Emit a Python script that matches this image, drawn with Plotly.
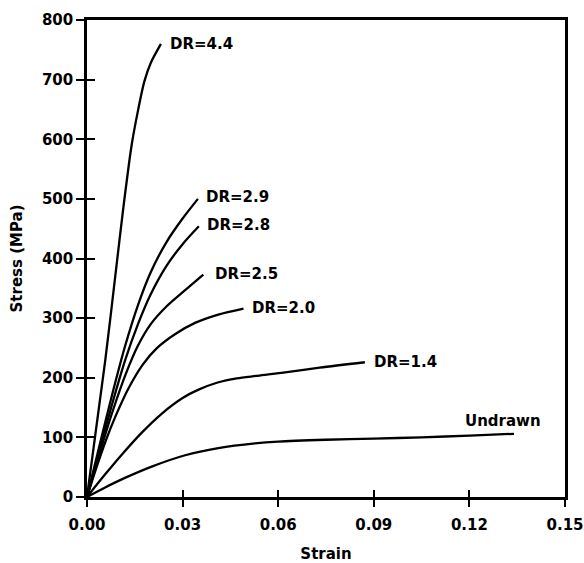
import plotly.graph_objects as go

# ---- data ----
strain_undrawn = [0, 0.0057, 0.0119, 0.0203, 0.0308, 0.0412, 0.0527, 0.06, 0.075, 0.09, 0.105, 0.12, 0.134]
stress_undrawn = [0, 16, 32, 51, 70, 82, 90, 93, 96, 98, 100, 103, 106]

strain_dr14 = [0, 0.0057, 0.0109, 0.0172, 0.0235, 0.030, 0.035, 0.041, 0.047, 0.053, 0.061, 0.073, 0.0872]
stress_dr14 = [0, 38, 71, 108, 140, 166, 180, 192, 199, 203, 208, 217, 226]

strain_dr20 = [0, 0.003, 0.006, 0.009, 0.013, 0.0175, 0.022, 0.0276, 0.0339, 0.0412, 0.0491]
stress_dr20 = [0, 50, 96, 136, 182, 222, 250, 273, 292, 306, 316]

strain_dr25 = [0, 0.004, 0.008, 0.012, 0.016, 0.020, 0.025, 0.0308, 0.0365]
stress_dr25 = [0, 74, 143, 204, 254, 290, 320, 347, 373]

strain_dr28 = [0, 0.004, 0.008, 0.012, 0.016, 0.020, 0.025, 0.030, 0.0351]
stress_dr28 = [0, 80, 158, 230, 290, 340, 388, 424, 454]

strain_dr29 = [0, 0.004, 0.008, 0.012, 0.016, 0.020, 0.025, 0.030, 0.0348]
stress_dr29 = [0, 88, 174, 254, 322, 377, 428, 467, 500]

strain_dr44 = [0, 0.0057, 0.0093, 0.0114, 0.0140, 0.0160, 0.0180, 0.0200, 0.0232]
stress_dr44 = [0, 228, 390, 485, 590, 648, 697, 728, 760]

labels = ["Undrawn", "DR=1.4", "DR=2.0", "DR=2.5", "DR=2.8", "DR=2.9", "DR=4.4"]
x_ticks = [0, 0.03, 0.06, 0.09, 0.12, 0.15]
y_ticks = [0, 100, 200, 300, 400, 500, 600, 700, 800]

series = [
    (strain_undrawn, stress_undrawn),
    (strain_dr14, stress_dr14),
    (strain_dr20, stress_dr20),
    (strain_dr25, stress_dr25),
    (strain_dr28, stress_dr28),
    (strain_dr29, stress_dr29),
    (strain_dr44, stress_dr44),
]
# label offsets (pixels) relative to each curve's end point
label_style = {
    "Undrawn": dict(xanchor="center", xshift=-11, yshift=13),
    "DR=1.4": dict(xanchor="left", xshift=7, yshift=0),
    "DR=2.0": dict(xanchor="left", xshift=7, yshift=1),
    "DR=2.5": dict(xanchor="left", xshift=10, yshift=1),
    "DR=2.8": dict(xanchor="left", xshift=6, yshift=1),
    "DR=2.9": dict(xanchor="left", xshift=6, yshift=2),
    "DR=4.4": dict(xanchor="left", xshift=7, yshift=0),
}

FONT = dict(family="DejaVu Sans", size=15, color="black", weight="bold")

fig = go.Figure()
for name, (xs, ys) in zip(labels, series):
    fig.add_trace(go.Scatter(
        x=xs, y=ys, mode="lines", name=name,
        line=dict(color="black", width=2.3, shape="spline", smoothing=0.8),
        showlegend=False, hoverinfo="skip",
    ))
    st = label_style[name]
    fig.add_annotation(
        x=xs[-1], y=ys[-1], text=name, showarrow=False,
        xanchor=st["xanchor"], yanchor="middle",
        xshift=st["xshift"], yshift=st["yshift"], font=FONT,
    )

# invisible trace on overlay axes (for inside half of the crossing tick marks)
fig.add_trace(go.Scatter(x=[None], y=[None], xaxis="x2", yaxis="y2",
                         showlegend=False, hoverinfo="skip"))

fig.update_layout(
    width=584, height=563,
    margin=dict(l=87, r=19, t=20, b=66, autoexpand=False),
    paper_bgcolor="white", plot_bgcolor="white",
    font=FONT,
    xaxis=dict(
        range=[0, 0.15], tickvals=x_ticks, tickformat=".2f",
        ticks="outside", ticklen=7, tickwidth=2, tickcolor="black",
        showline=True, linewidth=2.5, linecolor="black", mirror=True,
        showgrid=False, zeroline=False, tickfont=FONT, automargin=False,
        ticklabelstandoff=5,
        title=dict(text="Strain", font=FONT, standoff=18),
    ),
    yaxis=dict(
        range=[0, 800], tickvals=y_ticks,
        ticks="outside", ticklen=8, tickwidth=2, tickcolor="black",
        showline=True, linewidth=2.5, linecolor="black", mirror=True,
        showgrid=False, zeroline=False, tickfont=FONT, automargin=False,
        title=dict(text="Stress (MPa)", font=FONT, standoff=16),
    ),
    xaxis2=dict(
        overlaying="x", anchor="y2", range=[0, 0.15], tickvals=x_ticks,
        ticks="inside", ticklen=7, tickwidth=2, tickcolor="black",
        showticklabels=False, showline=False, showgrid=False, zeroline=False,
    ),
    yaxis2=dict(
        overlaying="y", anchor="x2", range=[0, 800], tickvals=y_ticks,
        ticks="inside", ticklen=8, tickwidth=2, tickcolor="black",
        showticklabels=False, showline=False, showgrid=False, zeroline=False,
    ),
)

fig.write_html("out.html", config={"displayModeBar": False},
               post_script="document.body.style.margin='0';")
